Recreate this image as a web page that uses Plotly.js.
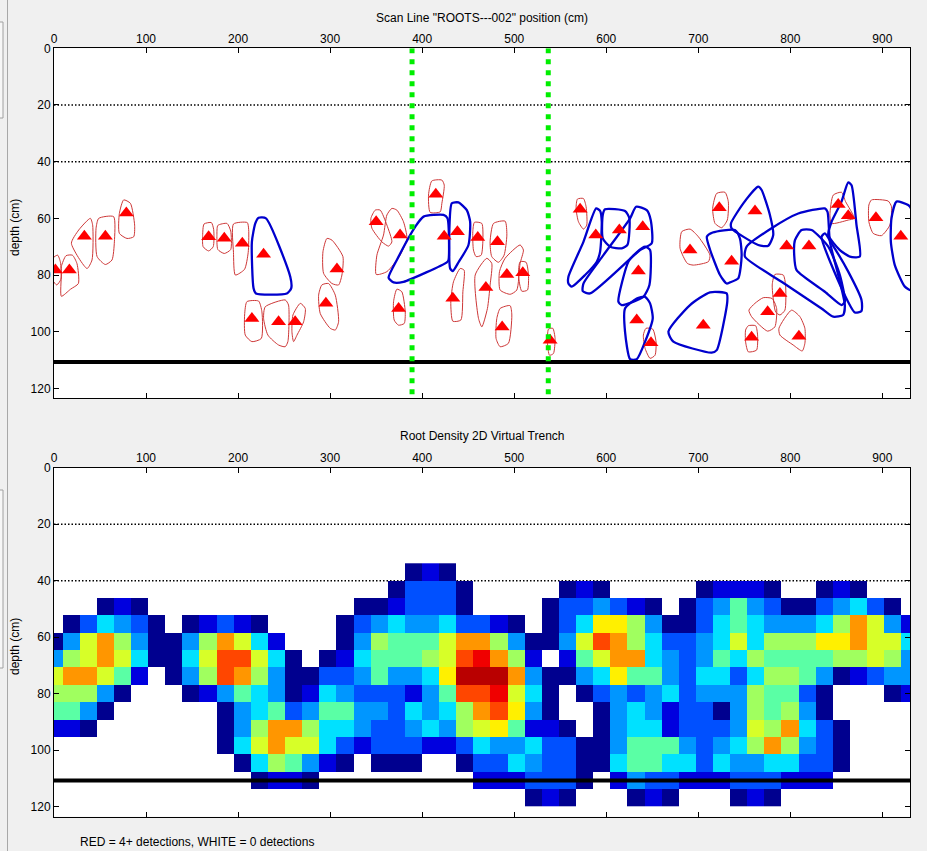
<!DOCTYPE html>
<html>
<head>
<meta charset="utf-8">
<script src="https://cdn.plot.ly/plotly-3.0.1.min.js"></script>
<style>html,body{margin:0;padding:0;background:#f0f0f0;}#chart{width:927px;height:851px;}</style>
</head>
<body>
<div id="chart"></div>
<script>
// ---------- Top panel data ----------
const triX = [1.5,16.7,33,55.8,78.6,168,185,204.6,227.7,215,244,262,307.4,295.4,350,376,374.4,414.8,423.9,438.3,433.3,460.4,481.8,469.2,492,509.3,486.9,539,571.6,588.6,614.2,639.6,634.9,633.1,648.6,691,705.4,722.8,761.6,736.2,796,820.2,852,862.9,893,920,788.7,775.3,757.9,809.3];
const triY = [78.2,78.2,66.3,66.3,58.1,66.5,67,68.8,72.7,95.3,96.5,96.5,77.9,90,61.2,65.9,91.8,51.5,66.3,64.7,88.2,66.8,68.3,84.4,79.8,79.2,98.3,103,56.8,65.9,64.1,63,78.6,95.9,103.9,71.2,97.7,56.3,57.4,75.1,69.8,69.8,55.1,59.1,59.8,66.3,86.5,93,102,101.6];

const redOutlines = [
 [[-1,74],[4,73],[7,75.5],[7.5,81.5],[3,83.5],[-1,82]],
 [[8,77],[13,73.2],[20,73],[25,76],[26.5,83],[18,85],[8,87.5],[8,80]],
 [[39.5,60],[42,62.4],[41.3,74.7],[35.9,77.7],[18.9,68.8],[26.9,64.1]],
 [[48.6,60],[64.8,59.4],[65.6,68.3],[63,74.7],[55.8,76.3],[46.8,73.5],[45.7,63.5]],
 [[75.7,53.5],[83,54.7],[87.6,62.4],[86.6,66.5],[79.3,67.1],[71,65.3],[71,58.3]],
 [[163,62],[171,61.5],[173.5,64],[173,70],[168,71.5],[162,70],[161.5,66]],
 [[178,62.5],[188,61.8],[192,64.5],[192,71],[185,72.4],[178,71],[177,66]],
 [[195,62],[210,61.5],[211.5,64],[211,72],[207,78],[197,80],[195,72]],
 [[209.6,89.4],[222.3,89.2],[225.9,93],[225.2,102.4],[215,103.5],[207.8,101.2],[207.1,94.1]],
 [[229.5,91.2],[251.2,88.8],[254.8,90.6],[254.1,103.5],[251.2,105.3],[244,104.7],[232.4,101.2],[227.7,95.3]],
 [[267.6,90],[273,91.8],[271.2,96.5],[264,101.2],[260.3,103.5],[258.5,100],[259.6,94.1]],
 [[296.5,67.1],[302,67.7],[313.9,73.5],[312.8,80],[309.2,83.5],[302,83],[292.9,79.4],[292.2,71.8]],
 [[291,83.5],[298.3,83],[305.6,87.1],[309.2,96.5],[305.6,99.4],[300.1,98.8],[289.3,93.6],[287.5,87.1]],
 [[349,57.1],[354.4,57.1],[361.7,62.4],[367.1,68.3],[363.5,69.8],[356.2,68.3],[345.4,63.5],[344.3,60]],
 [[367.1,56.5],[372.5,57.1],[379.7,61.2],[383.4,67.1],[376.1,73],[361.7,78.8],[350.1,79.8],[350.8,73],[358,65.9],[361.7,58.8]],
 [[372.5,85],[377.9,85.9],[381.6,93],[380.5,97.1],[374.3,97.7],[369.6,95.9],[368.9,89.4]],
 [[410.5,46.8],[421.4,46.5],[424,48.3],[421.4,54.7],[419.6,57.7],[408.7,57.9],[406.9,51.8]],
 [[441.3,77.7],[445.6,78.3],[444.2,85.9],[442,95.9],[433.3,96.3],[431.1,89.4],[434,82.4]],
 [[456.8,61.4],[464.8,61.8],[465.9,68.3],[464.1,73],[458.6,73.5],[455.7,71.2],[455,64.7]],
 [[477.5,61.8],[490.1,61],[492,65.9],[489,73],[482.9,75.5],[475.6,73.5],[473.8,68.3]],
 [[470.2,74.1],[475.6,75.9],[473.8,83.5],[470.9,91.8],[464.8,98.3],[461.2,95.3],[457.6,80]],
 [[506.4,69.4],[510,71.2],[506.4,75.9],[502.8,85.3],[495.6,86.8],[484.7,85.3],[484,78.8],[490.1,74.1]],
 [[506.4,75.3],[512.9,75.5],[515.5,80],[514.4,85.3],[508.2,85.7],[504.6,80]],
 [[484.7,91.8],[495.5,90.8],[497.4,94.1],[493.7,104.1],[484.7,105.3],[480.3,102.4],[481.1,95.3]],
 [[537.2,99.1],[541.9,98.8],[544.4,102.4],[542.6,107.7],[538.3,108.3],[536.1,103.6]],
 [[568.7,53.2],[575.2,53],[578.1,55.9],[578.8,62.4],[575.2,63.8],[569.8,61.2],[567.2,56.5]],
 [[643.2,98.8],[650.5,99.1],[654.1,103.6],[653,108.3],[647.6,109.4],[642.2,105.9],[640.3,101.2]],
 [[682,64.7],[691,63.8],[700.1,66.5],[712.7,73],[710.9,75.3],[694.6,76.5],[688.1,75.9],[680.2,70.6]],
 [[720,51.2],[729,50.8],[732.6,54.1],[731.5,60.6],[725.4,63.3],[718.2,61.8],[715.6,56.5]],
 [[846.6,51.8],[855.6,50.8],[860,54.1],[869.4,60],[862.9,60.6],[844.8,61.8],[843,58.8]],
 [[888.2,53.5],[906.3,53.9],[909.9,55.9],[908.1,62.4],[899,66.1],[890,65.3],[885.3,61.2],[885.3,55.3]],
 [[783.2,79.8],[792.3,80],[794.8,83.5],[794.1,92.4],[788.7,94.1],[784,93],[780.3,83.5]],
 [[770.6,88],[780.3,88.3],[785.1,91.8],[783.2,98.3],[775.3,99.8],[757.9,94.7],[755,92.4],[761.5,90]],
 [[754.3,97.9],[762.3,97.9],[764.4,101.2],[763.3,106.5],[754.3,107.1],[751.4,103.6],[751.4,99.4]],
 [[801.3,92.4],[810.4,94.7],[815.8,98.8],[815.8,104.1],[812.9,106.8],[803.1,104.7],[788.7,101.2],[787.6,98.8]]
];

const blueOutlines = [
 [[222.3,59.8],[230.3,60],[256.7,80.6],[257.7,84.7],[253,86.5],[219.4,86.5],[216.8,84.7],[215,68.3],[218.7,61.8]],
 [[401.5,59.4],[423.2,58.8],[427.5,60],[428.6,74.7],[426.8,75.5],[379.7,82.4],[368.9,82.6],[363.5,81],[372.5,74.7],[392.4,63]],
 [[432.2,54.7],[439.5,54.4],[448.5,57.1],[452.1,61.2],[450.3,69.4],[439.5,75.5],[433.3,78.6],[430.4,77.7],[429.7,62.4]],
 [[589,56.5],[593.3,57.4],[595.1,61.2],[593.3,71.8],[589.7,75.3],[577,80],[562.5,84.1],[558.9,83],[558.9,80.6],[575.2,68.3]],
 [[598.7,56.8],[620.4,57.4],[625.1,60],[623,69.4],[616.8,70.6],[604.2,70],[596.2,67.1],[596.2,58.8]],
 [[632.4,55.9],[644,57.1],[648.3,60.6],[649.4,68.8],[636.7,71.2],[582.4,86.5],[574.5,85.7],[575.2,83],[596.9,73],[625.9,60]],
 [[642.2,70],[647.6,71.2],[646.9,83.5],[640.3,87.7],[616.8,90.6],[613.2,89.4],[624,75.3],[633.1,72]],
 [[620.4,91.8],[633.1,88.3],[642.2,87.7],[647.6,90],[650.5,95.3],[642.2,103.5],[633.1,109.7],[625.9,109.7],[620.4,100]],
 [[712.7,86.1],[730.8,86.5],[731.5,89.4],[720,106.5],[714.5,107.4],[672.9,103.5],[667.5,100],[691,90.6]],
 [[709.3,66.5],[715.6,65],[739.8,64.1],[745.2,67.1],[747.1,73],[743.4,81.2],[734.4,82.6],[730.8,83],[723.6,80],[712.7,71]],
 [[765.1,48.8],[768.8,50],[777.8,58.8],[781.4,65.9],[776,69.7],[765.1,69.4],[736.2,63.5],[735.5,61.8],[748.9,54.7]],
 [[752.5,70],[779.6,63.5],[808.6,58.3],[837.5,56.5],[840.4,57.7],[843,68.3],[852,80],[859.2,90.6],[857.4,94.1],[846.6,94.7],[833.9,91.8],[790.5,82.4],[750.7,73.5]],
 [[812.2,64.1],[823.1,64.1],[841.2,70],[853.8,80],[859.2,89.4],[855.6,90.6],[837.5,85.9],[806.8,78.3],[804.2,73],[805,67.7]],
 [[837.5,65.3],[844.8,68.8],[862.9,78.8],[877.3,88.8],[877.3,92.7],[870.1,93.2],[857.4,85.9],[833.9,66.5]],
 [[862.9,47.3],[866.5,48.3],[871.9,62.4],[875.5,73.5],[864.7,73.5],[853.8,71.2],[841.2,65.9],[844.8,61.2],[855.6,54.1]],
 [[915.3,54.1],[928,55.3],[931,56.5],[931,85.3],[924.4,84.1],[913.5,76.5],[909.2,68.3],[909.9,60]]
];

const scanLinesX = [389, 537];
const dottedDepths = [20, 40];
const groundDepth = 110.7;

// ---------- Bottom panel data (heatmap) ----------
const cellX = [0,18.6,37.2,55.8,74.4,93,111.6,130.2,148.8,167.4,186,204.6,223.2,241.8,260.4,279,297.6,316.2,334.8,353.4,372,390.6,409.2,427.8,446.4,465,483.6,502.2,520.8,539.4,558,576.6,595.2,613.8,632.4,651,669.6,688.2,706.8,725.4,744,762.6,781.2,799.8,818.4,837,855.6,874.2,892.8,911.4,930];
const cellY = [36.9,43.05,49.2,55.35,61.5,67.65,73.8,79.95,86.1,92.25,98.4,104.55,110.7,116.85];
// density level codes: 0 = no detections (white), 1 = dark blue ... 13 = dark red
const densityCodes = [
 [0,0,0,0,0,0,0,0,0,0, 0,0,0,0,0,0,0,0,0,0, 0,1,2,1,0,0,0,0,0,0, 0,0,0,0,0,0,0,0,0,0, 0,0,0,0,0,0,0,0,0,0, 0],
 [0,0,0,0,0,0,0,0,0,0, 0,0,0,0,0,0,0,0,0,0, 1,3,3,3,1,0,0,0,0,0, 1,2,1,0,0,0,0,0,1,2, 2,2,1,0,0,1,2,1,0,0, 0],
 [0,0,0,1,2,1,0,0,0,0, 0,0,0,0,0,0,0,0,1,1, 2,3,3,3,1,0,0,0,0,1, 3,3,4,3,2,1,0,1,3,4, 6,4,3,1,1,3,4,5,3,1, 0],
 [0,1,3,5,4,3,1,0,1,2, 3,2,1,0,0,0,0,1,3,4, 5,4,4,5,3,3,2,1,0,1, 3,5,9,9,7,4,1,1,3,5, 6,5,4,4,4,5,7,10,8,4, 2],
 [1,4,8,10,7,4,1,1,4,7, 10,8,5,2,0,0,0,1,4,7, 6,6,6,8,10,10,7,4,1,1, 4,8,11,10,7,5,3,3,4,5, 8,5,7,7,7,9,9,10,8,8, 5],
 [4,7,8,10,8,5,1,1,5,8, 11,11,8,5,1,0,1,2,5,6, 6,6,7,8,11,12,10,7,2,0, 2,6,8,10,10,5,4,3,4,6, 5,7,6,6,6,6,7,7,8,7, 4],
 [8,10,10,8,6,2,0,1,4,7, 11,10,7,4,1,1,3,3,4,6, 4,4,5,9,13,13,13,10,4,1, 1,4,5,9,6,6,4,3,5,5, 3,5,7,7,6,4,1,2,3,4, 4],
 [7,7,7,4,1,0,0,0,1,2, 4,6,5,4,1,2,5,4,3,3, 3,2,4,6,11,11,12,8,5,1, 0,1,3,4,3,4,5,3,4,4, 4,7,6,6,3,1,0,0,0,1, 2],
 [6,6,4,1,0,0,0,0,0,0, 1,4,5,6,3,4,6,6,4,4, 3,5,4,5,7,10,11,9,4,1, 0,0,1,4,5,4,2,3,3,1, 4,7,6,7,4,1,0,0,0,0, 0],
 [2,2,1,0,0,0,0,0,0,0, 1,4,7,10,10,7,5,5,4,3, 3,4,5,4,7,8,9,6,2,2, 1,0,1,4,5,5,2,3,3,3, 4,8,7,10,5,3,1,0,0,0, 0],
 [0,0,0,0,0,0,0,0,0,0, 1,5,8,10,8,8,5,3,2,3, 3,3,2,2,3,5,4,4,5,3, 3,1,1,4,6,6,6,4,3,4, 5,7,10,7,4,3,1,0,0,0, 0],
 [0,0,0,0,0,0,0,0,0,0, 0,1,5,7,6,4,2,1,0,1, 1,1,0,0,1,3,3,5,4,3, 3,1,1,5,6,6,5,5,3,5, 4,4,5,5,3,3,1,0,0,0, 0],
 [0,0,0,0,0,0,0,0,0,0, 0,0,1,2,2,1,0,0,0,0, 0,0,0,0,0,2,2,2,3,3, 3,1,0,2,4,3,3,2,2,2, 3,3,3,2,2,2,0,0,0,0, 0],
 [0,0,0,0,0,0,0,0,0,0, 0,0,0,0,0,0,0,0,0,0, 0,0,0,0,0,0,0,0,1,2, 1,0,0,0,1,2,1,0,0,0, 1,2,1,0,0,0,0,0,0,0, 0]
];
const levelColors = ['rgb(0,0,143)','rgb(0,0,223)','rgb(0,80,255)','rgb(0,150,255)','rgb(0,225,255)','rgb(90,255,165)','rgb(160,255,95)','rgb(215,255,40)','rgb(255,240,0)','rgb(255,150,0)','rgb(255,70,0)','rgb(240,0,0)','rgb(185,0,0)'];

// ---------- build ----------
function polyTrace(polys, color, width, xa, ya) {
  const xs = [], ys = [];
  polys.forEach(p => {
    p.forEach(v => { xs.push(v[0]); ys.push(v[1]); });
    xs.push(p[0][0]); ys.push(p[0][1]);
    xs.push(null); ys.push(null);
  });
  return {type:'scatter', mode:'lines', x:xs, y:ys, xaxis:xa, yaxis:ya,
          line:{color:color, width:width, shape:'spline', smoothing:0.6},
          connectgaps:false, hoverinfo:'skip', cliponaxis:true};
}

const nL = levelColors.length;
const colorscale = [];
levelColors.forEach((c, i) => { colorscale.push([i / nL, c]); colorscale.push([(i + 1) / nL, c]); });

const zData = densityCodes.map(r => r.map(v => v === 0 ? null : v));

const traces = [
  polyTrace(redOutlines, 'rgb(205,55,55)', 1, 'x', 'y'),
  polyTrace(blueOutlines, 'rgb(0,0,205)', 2.3, 'x', 'y'),
  {type:'scatter', mode:'markers', x:triX, y:triY, xaxis:'x', yaxis:'y',
   marker:{symbol:'triangle-up', size:13, color:'#ff0000', line:{width:0}}, hoverinfo:'skip'},
  {type:'heatmap', x:cellX, y:cellY, z:zData, xaxis:'x2', yaxis:'y2',
   zmin:0.5, zmax:nL + 0.5, colorscale:colorscale, showscale:false, zsmooth:false, hoverinfo:'skip'}
];

const H = 851, L = 54, R = 17, W = 927 - L - R;
const px2x = p => (p - L) / W;
const py2y = p => 1 - p / H;

const xTicks = [0,100,200,300,400,500,600,700,800,900];
const yTicks = [0,20,40,60,80,100,120];
const tickFont = {family:'Liberation Sans, Arial, sans-serif', size:12, color:'#000'};
function xAxis(anchor) {
  return {domain:[0,1], range:[0,930], side:'top', anchor:anchor, tickvals:xTicks,
    ticks:'inside', ticklen:5, tickcolor:'#000', showline:true, linecolor:'#000', linewidth:1,
    mirror:'ticks', showgrid:false, zeroline:false, tickfont:tickFont};
}
function yAxis(anchor, dom) {
  return {domain:dom, range:[123.5,0], anchor:anchor, tickvals:yTicks,
    ticks:'inside', ticklen:5, tickcolor:'#000', showline:true, linecolor:'#000', linewidth:1,
    mirror:'ticks', showgrid:false, zeroline:false, tickfont:tickFont};
}

const shapes = [];
[['x','y'],['x2','y2']].forEach(([xa, ya]) => {
  dottedDepths.forEach(d => shapes.push({type:'line', xref:xa, yref:ya, x0:0, x1:930, y0:d, y1:d,
    layer:'below', line:{color:'#000', width:1.5, dash:'1.5px,2px'}}));
  shapes.push({type:'line', xref:xa, yref:ya, x0:0, x1:930, y0:groundDepth, y1:groundDepth,
    layer:'above', line:{color:'#000', width:4}});
});
scanLinesX.forEach(s => shapes.push({type:'line', xref:'x', yref:'y', x0:s, x1:s, y0:0, y1:123.5,
  layer:'above', line:{color:'#00ee00', width:5, dash:'5px,6px'}}));
// window frame decorations at left edge
shapes.push({type:'line', xref:'paper', yref:'paper', x0:px2x(7.5), x1:px2x(7.5), y0:0, y1:1, line:{color:'#a8a8a8', width:1}});
shapes.push({type:'rect', xref:'paper', yref:'paper', x0:px2x(-2), x1:px2x(3), y0:py2y(118), y1:py2y(22), fillcolor:'#f7f7f7', line:{color:'#a0a0a0', width:1}});
shapes.push({type:'rect', xref:'paper', yref:'paper', x0:px2x(-2), x1:px2x(3), y0:py2y(668), y1:py2y(490), fillcolor:'#f7f7f7', line:{color:'#a0a0a0', width:1}});

const font = {family:'Liberation Sans, Arial, sans-serif', size:12, color:'#000'};
const annotations = [
  {text:'Scan Line "ROOTS---002" position (cm)', xref:'paper', yref:'paper', x:0.5, y:py2y(18), xanchor:'center', yanchor:'middle', showarrow:false, font:font},
  {text:'Root Density 2D Virtual Trench', xref:'paper', yref:'paper', x:0.5, y:py2y(436), xanchor:'center', yanchor:'middle', showarrow:false, font:font},
  {text:'depth (cm)', xref:'paper', yref:'paper', x:px2x(15), y:py2y(228), textangle:-90, xanchor:'center', yanchor:'middle', showarrow:false, font:font},
  {text:'depth (cm)', xref:'paper', yref:'paper', x:px2x(15), y:py2y(647), textangle:-90, xanchor:'center', yanchor:'middle', showarrow:false, font:font},
  {text:'RED = 4+ detections, WHITE = 0 detections', xref:'paper', yref:'paper', x:px2x(78), y:py2y(842), xanchor:'left', yanchor:'middle', showarrow:false, font:font}
];

const layout = {
  width:927, height:851, margin:{l:L, r:R, t:0, b:0},
  paper_bgcolor:'#f0f0f0', plot_bgcolor:'#ffffff', showlegend:false, font:font,
  xaxis: xAxis('y'), yaxis: yAxis('x', [py2y(398.3), py2y(48.3)]),
  xaxis2: xAxis('y2'), yaxis2: yAxis('x2', [py2y(816.7), py2y(467.7)]),
  shapes: shapes, annotations: annotations
};

Plotly.newPlot('chart', traces, layout, {staticPlot:true, displayModeBar:false});
</script>
</body>
</html>
